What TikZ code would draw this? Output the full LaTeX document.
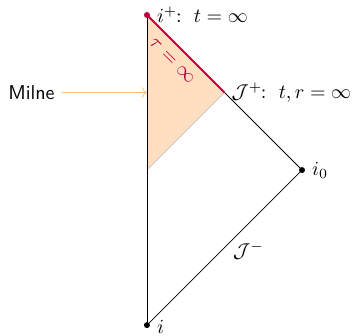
\documentclass[tikz,border=0pt]{standalone}
\usepackage[dvipsnames]{xcolor}
\usepackage{amsmath, amssymb}
\usepackage{tikz}
\usetikzlibrary{arrows.meta}

\begin{document}
\begin{tikzpicture}[scale=2.724,
    dot/.style={circle, fill, inner sep=0pt, minimum size=3pt},
    lbl/.style={right, xshift=1.5pt}]
        \useasboundingbox (-0.948,-1.065) rectangle (1.342,1.097);
        \coordinate (ip) at (0,1);
        \coordinate (ii) at (0,-1);
        \coordinate (io) at (1,0);
        \coordinate (scri) at (0.5,0.5);
        \coordinate (orig) at (0,0);
        \coordinate (mid) at (0,0.5);
        % region de Milne
        \fill[orange!25] (ip) -- (scri) -- (orig) -- cycle;
        \draw[gray!40] (scri) -- (orig);
        % bordes del diagrama
        \draw (ii) -- (ip);
        \draw (scri) -- (io) -- (ii);
        \draw[purple, line width=1pt] (ip) -- (scri)
            node[pos=0.46, sloped, below, yshift=-1.5pt] {$\tau=\infty$};
        % puntos
        \node[dot, purple] (iplus) at (ip) {};
        \node[dot] (izero) at (io) {};
        \node[dot] (iminus) at (ii) {};
        \node[lbl] at (iplus) {$i^+\!\!:\ t=\infty$};
        \node[right] at (scri) {$\mathcal{J}^+\!\!:\ t,r=\infty$};
        \node[lbl] at (izero) {$i_0$};
        \node[lbl, yshift=-1pt] at (iminus) {$i$};
        \node at (0.655,-0.52) {$\mathcal{J}^-$};
        % etiqueta
        \node[anchor=east] (milne) at (-0.55,0.5) {\textsf{Milne}};
        \draw[->, orange!50] (milne) -- (mid);
    \end{tikzpicture}
\end{document}
